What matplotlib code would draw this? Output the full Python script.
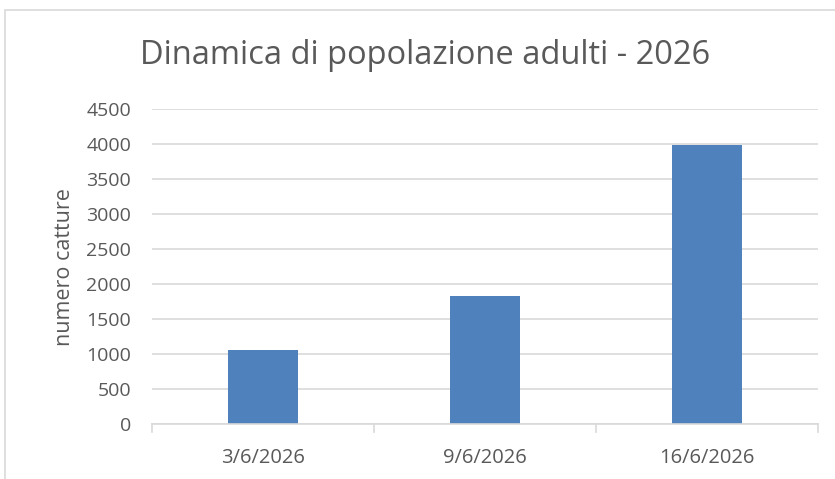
import matplotlib.pyplot as plt
from matplotlib.patches import Rectangle

# data
dates = ['3/6/2026', '9/6/2026', '16/6/2026']
catture = [1055, 1830, 3990]
y_ticks = [0, 500, 1000, 1500, 2000, 2500, 3000, 3500, 4000, 4500]

plt.rcParams['font.family'] = ['Open Sans', 'DejaVu Sans']
grey = '#595959'

fig = plt.figure(figsize=(8.35, 4.79), dpi=100)
ax = fig.add_axes([0.182, 0.115, 0.798, 0.657])

# chart border (cropped at right and bottom in the reference)
fig.patches.append(Rectangle((5 / 835, -0.1), 1.1, 1 - 10 / 479 + 0.1,
                             transform=fig.transFigure, fill=False,
                             edgecolor='#d9d9d9', linewidth=1.2))

x = range(len(dates))
ax.bar(x, catture, width=0.315, color='#4f81bd', zorder=2)

ax.set_xlim(-0.5, len(dates) - 0.5)
ax.set_ylim(0, 4500)
ax.set_yticks(y_ticks)
ax.set_yticklabels([str(v) for v in y_ticks])
ax.yaxis.grid(True, color='#d9d9d9', linewidth=1.2, zorder=0)
ax.tick_params(axis='y', length=0, pad=15, labelsize=14, labelcolor=grey)

ax.set_xticks(x)
ax.set_xticklabels(dates)
ax.tick_params(axis='x', length=0, pad=17, labelsize=14.5, labelcolor=grey)
# category separators
for b in [-0.5, 0.5, 1.5, 2.5]:
    ax.plot([b, b], [0, -0.025], transform=ax.get_xaxis_transform(),
            color='#d9d9d9', linewidth=1.2, clip_on=False)

for s in ['top', 'right', 'left']:
    ax.spines[s].set_visible(False)
ax.spines['bottom'].set_color('#d9d9d9')
ax.spines['bottom'].set_linewidth(1.2)

ax.set_ylabel('numero catture', fontsize=15.5, color=grey, labelpad=8)
fig.text(425 / 835, 1 - 55 / 479, 'Dinamica di popolazione adulti - 2026',
         ha='center', va='center', fontsize=23.5, color=grey)

fig.savefig('out.png', dpi=100)
